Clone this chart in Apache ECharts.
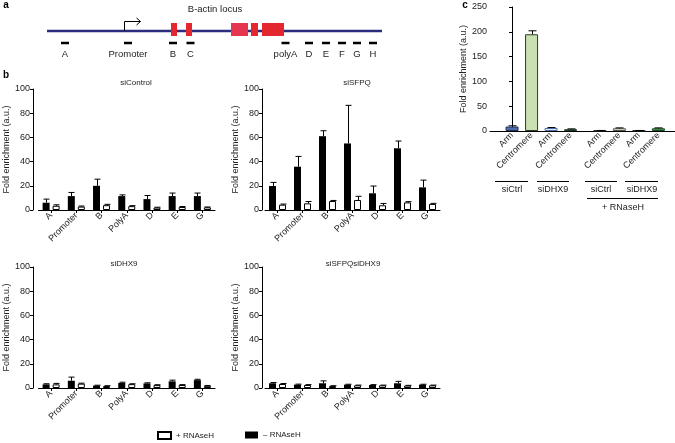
<!DOCTYPE html>
<html><head><meta charset="utf-8">
<script src="https://cdn.jsdelivr.net/npm/echarts@6/dist/echarts.min.js"></script>
<style>html,body{margin:0;padding:0;background:#fff}#c{width:675px;height:443px}</style>
</head><body><div id="c"></div>
<script>
const FONT = '"Liberation Sans", Arial, sans-serif';

// ---------- panel a : B-actin locus ----------
const locusLength = 335;
const tssPosition = 77;
const locusExons = [[124,130],[139,145],[184,201],[204,211],[215,237]];
const primerNames = ['A','Promoter','B','C','polyA','D','E','F','G','H'];
const primerPositions = [18, 81, 126, 143.5, 238.5, 262, 279, 295, 310, 326];

// ---------- panel b : ChIP per region ----------
const regions = ['A','Promoter','B','PolyA','D','E','G'];
const siControlMinus    = [6, 11.5, 20, 11.5, 9, 11.5, 11.5];
const siControlMinusErr = [3, 3, 5.5, 1, 3, 2.5, 2.5];
const siControlPlus     = [3.5, 2.8, 4, 3.2, 2, 2.5, 2.2];
const siControlPlusErr  = [0.8, 0.5, 0.7, 0.4, 0.3, 0.4, 0.3];
const siSFPQMinus       = [19.8, 35.8, 61, 55, 13.8, 51, 18.7];
const siSFPQMinusErr    = [3, 8.5, 4.5, 31.5, 6, 6, 6];
const siSFPQPlus        = [4.4, 5.5, 7.4, 8.3, 3.9, 6.3, 5];
const siSFPQPlusErr     = [0.5, 1.5, 0.5, 3, 1.5, 0.6, 0.5];
const siDHX9Minus       = [3, 6, 2, 4.2, 3.8, 5.5, 6.5];
const siDHX9MinusErr    = [0.5, 3, 0.3, 0.6, 0.5, 1, 0.7];
const siDHX9Plus        = [3, 3.6, 1.6, 3.2, 2.4, 2.5, 1.8];
const siDHX9PlusErr     = [0.8, 0.4, 0.3, 0.3, 0.3, 0.3, 0.3];
const siBothMinus       = [3.9, 2.8, 3.9, 2.8, 2.5, 3.9, 2.8];
const siBothMinusErr    = [0.6, 0.4, 2, 0.3, 0.3, 1.6, 0.3];
const siBothPlus        = [3.3, 2.5, 1.7, 2.2, 2.2, 2, 2.2];
const siBothPlusErr     = [0.4, 0.3, 0.2, 0.2, 0.2, 0.2, 0.2];
const bTicks = [0, 20, 40, 60, 80, 100];

// ---------- panel c ----------
const cLabels = ['Arm','Centromere','Arm','Centromere','Arm','Centromere','Arm','Centromere'];
const cValues = [9, 195, 6, 3.5, 0.8, 5.5, 0.8, 5.5];
const cErrors = [1.5, 7, 1, 0.8, 0.3, 0.8, 0.3, 0.8];
const cTicks = [0, 50, 100, 150, 200, 250];
const cFill   = ['#4d6dab','#c9e1b2','#e3edf8','#2f6e3a','#444444','#e9f1cd','#444444','#3f9a4b'];
const cBorder = ['#1e2f5c','#2e3a22','#4d6dab','#1a3a1f','#222222','#555555','#222222','#1f4f24'];

const chart = echarts.init(document.getElementById('c'), null, {renderer:'canvas'});

const grids = [], xAxes = [], yAxes = [], series = [];

// panel a grid (x in locus units, y in pixel-like units)
grids.push({left:47, top:0, width:335, height:60});
xAxes.push({gridIndex:0, type:'value', min:0, max:locusLength, show:false});
yAxes.push({gridIndex:0, type:'value', min:0, max:60, inverse:true, show:false});
series.push({type:'custom', xAxisIndex:0, yAxisIndex:0, silent:true, data:[[0, locusLength]],
  renderItem:(p, api)=>{ const a=api.coord([api.value(0),31]), b=api.coord([api.value(1),31]);
    return {type:'line', shape:{x1:a[0],y1:a[1],x2:b[0],y2:b[1]}, style:{stroke:'#2c2c7e', lineWidth:2.5}}; }});
series.push({type:'custom', xAxisIndex:0, yAxisIndex:0, silent:true, data:locusExons,
  renderItem:(p, api)=>{ const a=api.coord([api.value(0),23]), b=api.coord([api.value(1),36]);
    return {type:'rect', shape:{x:a[0], y:a[1], width:b[0]-a[0], height:b[1]-a[1]}, style:{fill: p.dataIndex===2?'#e5354f':'#e4262f'}}; }});
series.push({type:'custom', xAxisIndex:0, yAxisIndex:0, silent:true, data:primerPositions.map((v,i)=>[v,i]),
  renderItem:(p, api)=>{ const c=api.coord([api.value(0),43]); const t=api.coord([api.value(0),54]);
    return {type:'group', children:[
      {type:'line', shape:{x1:c[0]-4, y1:c[1], x2:c[0]+4, y2:c[1]}, style:{stroke:'#000', lineWidth:2.5}},
      {type:'text', style:{x:t[0], y:t[1], text:primerNames[api.value(1)], fill:'#222', font:'9.5px '+FONT, align:'center', verticalAlign:'middle'}}
    ]}; }});
series.push({type:'custom', xAxisIndex:0, yAxisIndex:0, silent:true, data:[[tssPosition, 0]],
  renderItem:(p, api)=>{ const b=api.coord([api.value(0),31]); const x=Math.round(b[0])+0.5;
    return {type:'group', children:[
      {type:'polyline', shape:{points:[[x,31],[x,21.5],[x+16,21.5]]}, style:{stroke:'#000', lineWidth:1, fill:null}},
      {type:'polyline', shape:{points:[[x+12,18],[x+16,21.5],[x+12,25]]}, style:{stroke:'#000', lineWidth:1, fill:null}}
    ]}; }});

// panel b
const bPanels = [
  {left:38.5, width:176.5, top:89, height:121, minus:siControlMinus, minusErr:siControlMinusErr, plus:siControlPlus, plusErr:siControlPlusErr},
  {left:265,  width:175,   top:89, height:121, minus:siSFPQMinus, minusErr:siSFPQMinusErr, plus:siSFPQPlus, plusErr:siSFPQPlusErr},
  {left:38.5, width:176.5, top:267, height:121, minus:siDHX9Minus, minusErr:siDHX9MinusErr, plus:siDHX9Plus, plusErr:siDHX9PlusErr},
  {left:265,  width:175,   top:267, height:121, minus:siBothMinus, minusErr:siBothMinusErr, plus:siBothPlus, plusErr:siBothPlusErr}
];
const axisLineStyle = {lineStyle:{color:'#000', width:1}};
function errSeries(gi, vals, errs, offset){
  return {type:'custom', xAxisIndex:gi, yAxisIndex:gi, silent:true, z:5,
    data: vals.map((v,i)=>[i, v, errs[i]]),
    renderItem:(p, api)=>{ const base=api.coord([api.value(0), api.value(1)]);
      const top=api.coord([api.value(0), api.value(1)+api.value(2)]);
      const x=Math.round(base[0]+offset)+0.5;
      return {type:'group', children:[
        {type:'line', shape:{x1:x, y1:base[1], x2:x, y2:top[1]}, style:{stroke:'#000', lineWidth:1}},
        {type:'line', shape:{x1:x-3, y1:top[1], x2:x+3, y2:top[1]}, style:{stroke:'#000', lineWidth:1}}
      ]}; }};
}
bPanels.forEach((bp, k)=>{
  const gi = k+1;
  grids.push({left:bp.left, top:bp.top, width:bp.width, height:bp.height});
  xAxes.push({gridIndex:gi, type:'category', data:regions, boundaryGap:true,
    axisLine:axisLineStyle, axisTick:{show:true, alignWithLabel:true, length:3, lineStyle:{color:'#000'}},
    axisLabel:{rotate:45, fontSize:9, fontFamily:FONT, color:'#222', margin:4, interval:0}});
  yAxes.push({gridIndex:gi, type:'value', min:0, max:100, interval:20, offset:bp.left===38.5?5.5:3,
    axisLine:{show:true, lineStyle:{color:'#000', width:1}}, axisTick:{show:true, length:3, lineStyle:{color:'#000'}},
    axisLabel:{fontSize:9, fontFamily:FONT, color:'#222', margin:3}, splitLine:{show:false},
    name:'Fold enrichment (a.u.)', nameLocation:'middle', nameGap:21,
    nameTextStyle:{fontSize:9, fontFamily:FONT, color:'#222'}});
  series.push({type:'bar', name:'– RNAseH', xAxisIndex:gi, yAxisIndex:gi, data:bp.minus, barWidth:7, barGap:'43%',
    itemStyle:{color:'#000'}});
  series.push({type:'bar', name:'+ RNAseH', xAxisIndex:gi, yAxisIndex:gi, data:bp.plus, barWidth:7, barGap:'43%',
    itemStyle:{color:'#fff', borderColor:'#000', borderWidth:1}});
  series.push(errSeries(gi, bp.minus, bp.minusErr, -5));
  series.push(errSeries(gi, bp.plus, bp.plusErr, 5));
});

// panel c
const cPos = cLabels.map((_, i)=> i + (i>=4 ? 0.5 : 0));
grids.push({left:490, top:7, width:185, height:124});
xAxes.push({gridIndex:5, type:'value', min:-1.13, max:8.35, splitLine:{show:false},
  axisLine:axisLineStyle, axisTick:{show:false},
  axisLabel:{customValues:cPos, rotate:45, fontSize:9, fontFamily:FONT, color:'#222', margin:3,
    formatter:(v)=>{ const i=cPos.findIndex(q=>Math.abs(q-v)<1e-6); return i>=0?cLabels[i]:''; }}});
yAxes.push({gridIndex:5, type:'value', min:0, max:250, interval:50,
  axisLine:{show:true, lineStyle:{color:'#000', width:1}}, axisTick:{show:true, length:3, lineStyle:{color:'#000'}},
  axisLabel:{fontSize:9, fontFamily:FONT, color:'#222', margin:3}, splitLine:{show:false},
  name:'Fold enrichment (a.u.)', nameLocation:'middle', nameGap:20,
  nameTextStyle:{fontSize:9, fontFamily:FONT, color:'#222'}});
series.push({type:'bar', xAxisIndex:5, yAxisIndex:5, barWidth:13,
  data:cValues.map((v,i)=>({value:[cPos[i], v], itemStyle:{color:cFill[i], borderColor:cBorder[i], borderWidth:1}}))});
series.push({type:'custom', xAxisIndex:5, yAxisIndex:5, silent:true, z:5,
  data:cValues.map((v,i)=>[cPos[i], v, cErrors[i]]),
  renderItem:(p, api)=>{ const base=api.coord([api.value(0), api.value(1)]);
    const top=api.coord([api.value(0), api.value(1)+api.value(2)]);
    const x=Math.round(base[0])+0.5;
    return {type:'group', children:[
      {type:'line', shape:{x1:x, y1:base[1], x2:x, y2:top[1]}, style:{stroke:'#000', lineWidth:1}},
      {type:'line', shape:{x1:x-4, y1:top[1], x2:x+4, y2:top[1]}, style:{stroke:'#000', lineWidth:1}}
    ]}; }});

function txt(x, y, text, size, opts){
  return Object.assign({type:'text', x:x, y:y, style:Object.assign({text:text, fill:'#222', font:size+'px '+FONT, align:'center', verticalAlign:'middle'}, opts||{})});
}
function hline(x1, x2, y){
  return {type:'line', shape:{x1:x1, y1:y+0.5, x2:x2, y2:y+0.5}, style:{stroke:'#000', lineWidth:1}};
}

const graphics = [
  txt(6, 5, 'a', 10, {font:'bold 10px '+FONT, fill:'#000'}),
  txt(6, 75, 'b', 10, {font:'bold 10px '+FONT, fill:'#000'}),
  txt(465, 5, 'c', 10, {font:'bold 10px '+FONT, fill:'#000'}),
  txt(215, 9, 'B-actin locus', 9.5),
  txt(136, 83, 'siControl', 8),
  txt(357, 83, 'siSFPQ', 8),
  txt(124, 264, 'siDHX9', 8),
  txt(353, 264, 'siSFPQsiDHX9', 8),
  hline(495, 528, 181), hline(537, 569, 181), hline(585, 617, 181), hline(625, 658, 181),
  hline(587, 658, 198),
  txt(512, 190, 'siCtrl', 9), txt(553, 190, 'siDHX9', 9), txt(601, 190, 'siCtrl', 9), txt(642, 190, 'siDHX9', 9),
  txt(623, 208, '+ RNaseH', 9)
];

chart.setOption({
  animation:false,
  textStyle:{fontFamily:FONT},
  grid:grids, xAxis:xAxes, yAxis:yAxes, series:series,
  legend:[
    {data:['+ RNAseH'], left:157, top:431, icon:'rect', itemWidth:13, itemHeight:7, padding:0, textStyle:{fontSize:8, fontFamily:FONT, color:'#222'}, selectedMode:false},
    {data:['– RNAseH'], left:245, top:431, icon:'rect', itemWidth:13, itemHeight:7, padding:0, textStyle:{fontSize:8, fontFamily:FONT, color:'#222'}, selectedMode:false}
  ],
  graphic:graphics
});
</script></body></html>
